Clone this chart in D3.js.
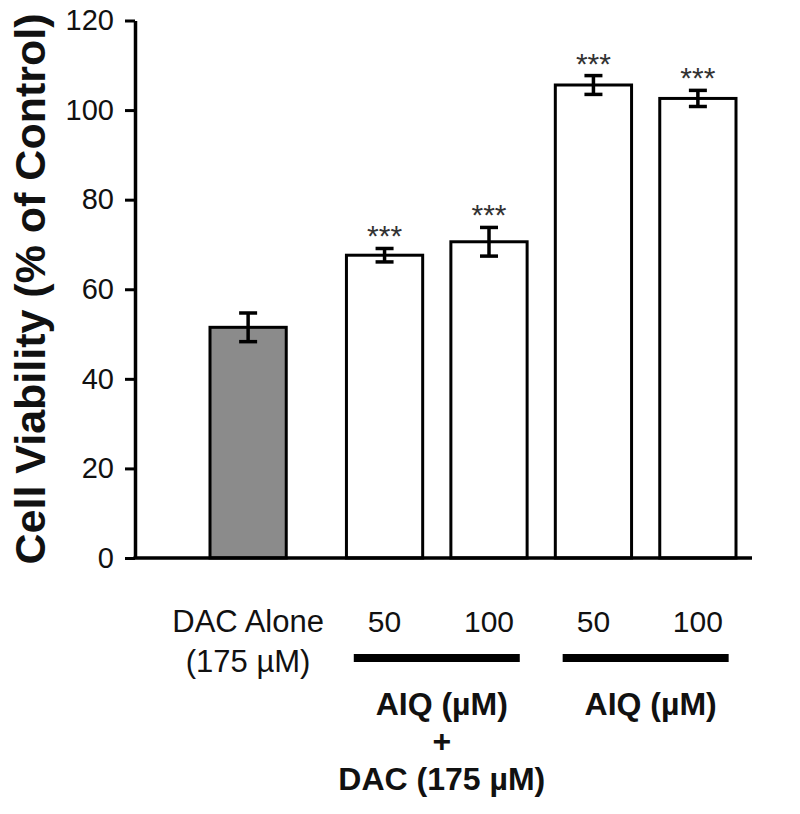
<!DOCTYPE html>
<html>
<head>
<meta charset="utf-8">
<script src="https://cdn.jsdelivr.net/npm/d3@7"></script>
<style>
  html, body { margin: 0; padding: 0; background: #fff; }
  svg { display: block; }
  text { font-family: "Liberation Sans", Arial, Helvetica, sans-serif; }
</style>
</head>
<body>
<svg id="chart" width="800" height="814"></svg>
<script>
// ---- data ----
const barIds     = ["dac", "combo50", "combo100", "aiq50", "aiq100"];
const barLabels  = ["DAC Alone", "50", "100", "50", "100"];
const barGroups  = ["dac", "combo", "combo", "aiq", "aiq"];
const values     = [51.5, 67.6, 70.6, 105.6, 102.6];
const errors     = [3.2, 1.5, 3.2, 2.1, 1.8];
const sigLabels  = ["", "***", "***", "***", "***"];
const barFills   = ["#8b8b8b", "#ffffff", "#ffffff", "#ffffff", "#ffffff"];
const yTicks     = [0, 20, 40, 60, 80, 100, 120];
const yTitle     = "Cell Viability (% of Control)";
const dacSubLabel = "(175 µM)";
const groupIds   = ["combo", "aiq"];
const groupLines = [["AIQ (µM)", "+", "DAC (175 µM)"], ["AIQ (µM)"]];

// ---- layout ----
const svg = d3.select("#chart");
const axisX = 135, baseY = 558, topY = 20.5, axisRight = 752;
const firstGroupGap = 32;

const y = d3.scaleLinear().domain([0, 120]).range([baseY, topY]);
const x = d3.scaleBand().domain(barIds).range([242, 736]).paddingInner(0.27).paddingOuter(0);
const bw = x.bandwidth();
const bx = (d, i) => x(barIds[i]) - (barGroups[i] === "dac" ? firstGroupGap : 0);
const cx = i => bx(null, i) + bw / 2;

// y axis
const yAxis = d3.axisLeft(y).tickValues(yTicks).tickSize(10).tickSizeOuter(0).tickPadding(11);
const gy = svg.append("g").attr("transform", `translate(${axisX},0)`).call(yAxis);
gy.select(".domain").attr("stroke", "#000").attr("stroke-width", 3.5);
gy.selectAll(".tick line").attr("stroke", "#000").attr("stroke-width", 3);
gy.selectAll(".tick text").attr("font-size", 29).attr("fill", "#111")
  .attr("font-family", '"Liberation Sans", Arial, sans-serif');

// bars
svg.selectAll("rect.bar").data(values).join("rect")
  .attr("class", "bar")
  .attr("x", (d, i) => bx(d, i))
  .attr("width", bw)
  .attr("y", d => y(d))
  .attr("height", d => baseY - y(d))
  .attr("fill", (d, i) => barFills[i])
  .attr("stroke", "#000").attr("stroke-width", 3);

// x axis baseline
svg.append("line")
  .attr("x1", axisX - 1.5).attr("x2", axisRight)
  .attr("y1", baseY).attr("y2", baseY)
  .attr("stroke", "#000").attr("stroke-width", 3.5);

// error bars
const capW = 18;
const eb = svg.append("g");
values.forEach((v, i) => {
  const c = cx(i), y1 = y(v + errors[i]), y0 = y(v - errors[i]);
  eb.append("line").attr("x1", c).attr("x2", c).attr("y1", y1).attr("y2", y0)
    .attr("stroke", "#000").attr("stroke-width", 3.5);
  [y1, y0].forEach(yy => eb.append("line")
    .attr("x1", c - capW / 2).attr("x2", c + capW / 2).attr("y1", yy).attr("y2", yy)
    .attr("stroke", "#000").attr("stroke-width", 3.5));
});

// significance stars
svg.selectAll("text.sig").data(sigLabels).join("text")
  .attr("class", "sig")
  .attr("x", (d, i) => cx(i))
  .attr("y", (d, i) => y(values[i] + errors[i]) - 2)
  .attr("text-anchor", "middle")
  .attr("font-size", 30).attr("fill", "#333")
  .text(d => d);

// category labels
svg.selectAll("text.cat").data(barLabels).join("text")
  .attr("class", "cat")
  .attr("x", (d, i) => cx(i))
  .attr("y", 632)
  .attr("text-anchor", "middle")
  .attr("font-size", (d, i) => i === 0 ? 31 : 30).attr("fill", "#111")
  .text(d => d);
svg.append("text")
  .attr("x", cx(0)).attr("y", 672)
  .attr("text-anchor", "middle").attr("font-size", 31).attr("fill", "#111")
  .text(dacSubLabel);

// group brackets and labels
groupIds.forEach((g, gi) => {
  const idx = barGroups.map((b, i) => b === g ? i : -1).filter(i => i >= 0);
  const gc = d3.mean(idx, i => cx(i));
  svg.append("line")
    .attr("x1", gc - 83).attr("x2", gc + 83)
    .attr("y1", 658).attr("y2", 658)
    .attr("stroke", "#000").attr("stroke-width", 8);
  const lines = groupLines[gi];
  const ys = [715, 752, 790];
  lines.forEach((t, li) => {
    svg.append("text")
      .attr("x", gc + 5).attr("y", ys[li])
      .attr("text-anchor", "middle")
      .attr("font-size", 32).attr("font-weight", "bold").attr("fill", "#111")
      .text(t);
  });
});

// y title
svg.append("text")
  .attr("transform", `translate(45, 289) rotate(-90)`)
  .attr("text-anchor", "middle")
  .attr("font-size", 43).attr("font-weight", "bold").attr("fill", "#111")
  .text(yTitle);
</script>
</body>
</html>
